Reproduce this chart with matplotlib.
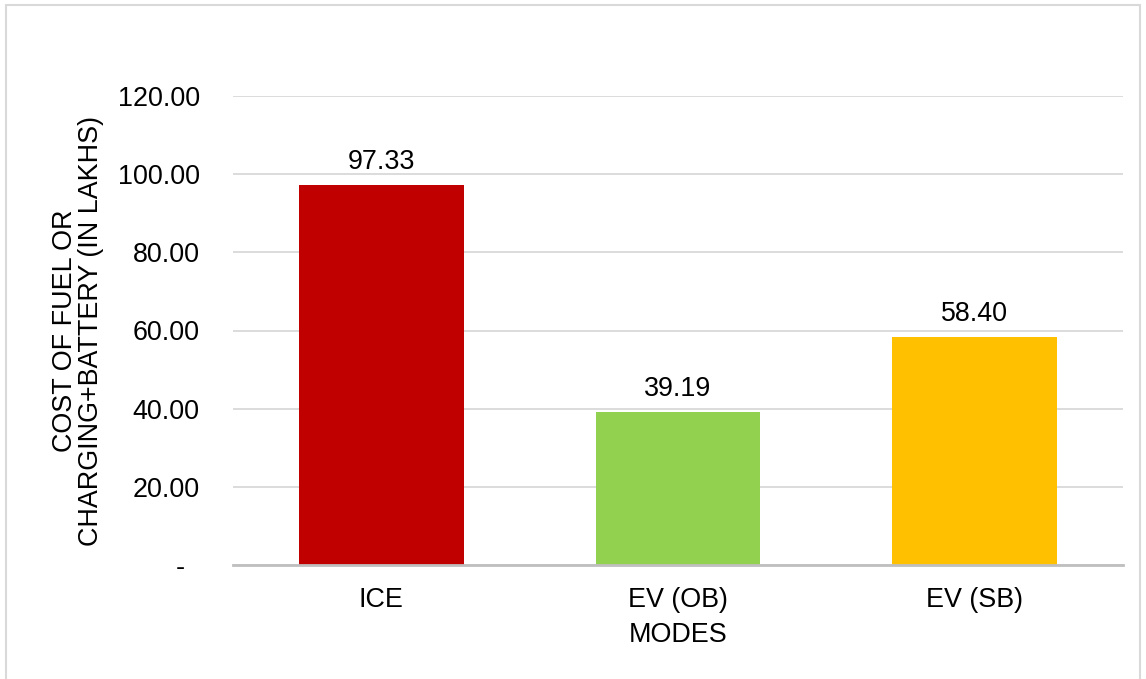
import matplotlib.pyplot as plt
from matplotlib.patches import Rectangle
from matplotlib.ticker import FuncFormatter

plt.rcParams['font.family'] = ['Liberation Sans', 'DejaVu Sans']

modes = ["ICE", "EV (OB)", "EV (SB)"]
costs = [97.33, 39.19, 58.40]
colors = ["#C00000", "#92D050", "#FFC000"]
yticks = [0, 20, 40, 60, 80, 100, 120]

fs = 19.4

fig = plt.figure(figsize=(11.46, 6.79), dpi=100)
ax = fig.add_axes([233 / 1146, 1 - 565 / 679, (1123 - 233) / 1146, (565 - 96) / 679])

# outer chart frame like the Excel chart area
fig.patches.append(Rectangle((6 / 1146, -0.01), 1134 / 1146, 1 - 5 / 679 + 0.01,
                             transform=fig.transFigure, fill=False,
                             edgecolor="#D9D9D9", linewidth=1.5))

x = range(len(modes))
bars = ax.bar(x, costs, width=0.556, color=colors, zorder=3)
for b, v in zip(bars, costs):
    ax.annotate(f"{v:.2f}", (b.get_x() + b.get_width() / 2, v),
                xytext=(0, 7), textcoords="offset points",
                ha="center", va="bottom", fontsize=fs)

ax.set_xlim(-0.5, 2.5)
ax.set_ylim(0, 120)
ax.set_yticks(yticks)
# accounting-style format: zero shown as a dash with padding
ax.yaxis.set_major_formatter(FuncFormatter(lambda v, p: "-  " if v == 0 else f"{v:.2f}"))
ax.set_xticks(list(x))
ax.set_xticklabels(modes)
ax.tick_params(axis="both", length=0, labelsize=fs)
ax.tick_params(axis="y", pad=24)
ax.tick_params(axis="x", pad=16)

ax.grid(axis="y", color="#D9D9D9", linewidth=1.3, zorder=0)
for s in ["top", "right", "left"]:
    ax.spines[s].set_visible(False)
ax.spines["bottom"].set_color("#BFBFBF")
ax.spines["bottom"].set_linewidth(2)
ax.spines["bottom"].set_zorder(4)

ax.set_xlabel("MODES", fontsize=fs, labelpad=6)
ax.set_ylabel("COST OF FUEL OR\nCHARGING+BATTERY (IN LAKHS)", fontsize=fs,
              labelpad=10, linespacing=1.0)

fig.savefig("out.png", dpi=100)
plt.close()
